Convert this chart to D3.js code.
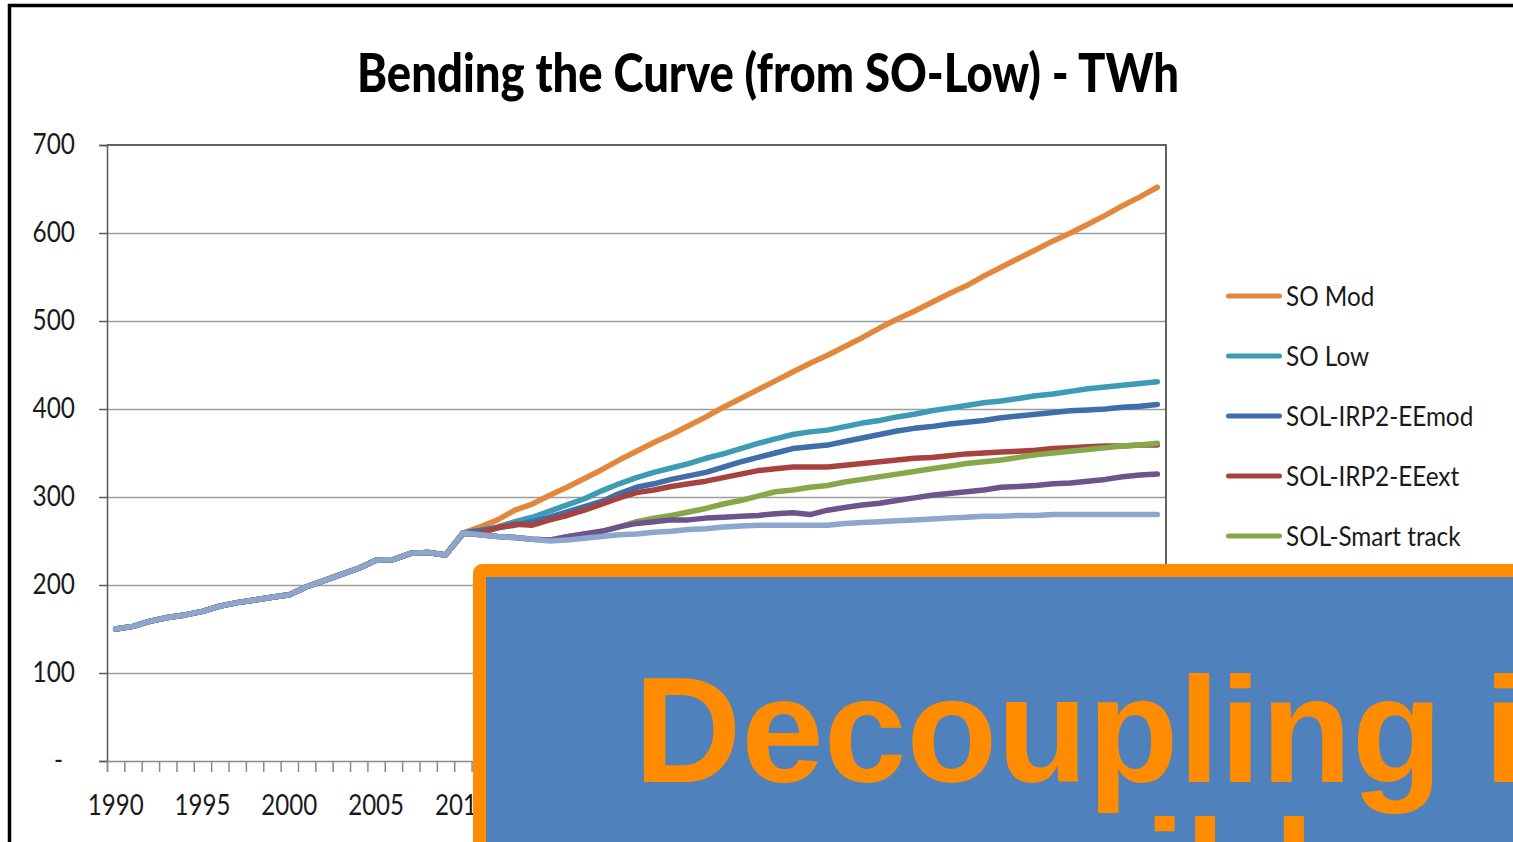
<!DOCTYPE html>
<html><head><meta charset="utf-8">
<script src="https://cdn.jsdelivr.net/npm/d3@7"></script>
<style>html,body{margin:0;padding:0;background:#fff;overflow:hidden}</style>
</head><body>
<svg id="c" width="1513" height="842"></svg>
<script>
// ---------- data ----------
const title = "Bending the Curve (from SO-Low) - TWh";
const years = d3.range(1990, 2051);
const yTicks = [0, 100, 200, 300, 400, 500, 600, 700];
// labels every 5 years; those from 2015 on sit under the overlay box
const xLabelYears = [1990, 1995, 2000, 2005, 2010];
const legendNames = ["SO Mod", "SO Low", "SOL-IRP2-EEmod", "SOL-IRP2-EEext", "SOL-Smart track"];
const seriesColors = ["#E3873A", "#3E9BB5", "#3F6EAA", "#A8423F", "#86A84A", "#6E548D", "#8DA6CE"];

// 1990-2009, shared by all series
const historical = [150,153,159,163,166,170,176,180,183,186,189,198,205,212,219,228,229,236,237,234];
// 2010-2050
const soMod = [259,266,274,285,292,302,311,321,331,342,352,362,371,381,391,402,412,422,432,442,452,461,471,481,492,502,511,521,531,540,551,561,571,581,591,600,610,620,631,641,652];
const soLow = [259,262,266,272,277,284,291,298,307,315,322,328,333,338,344,349,355,361,366,371,374,376,380,384,387,391,394,398,401,404,407,409,412,415,417,420,423,425,427,429,431];
const eeMod = [259,262,265,268,272,277,283,289,295,304,311,315,320,324,328,334,340,345,350,355,357,359,363,367,371,375,378,380,383,385,387,390,392,394,396,398,399,400,402,403,405];
const eeExt = [258,259,265,269,268,274,279,285,292,299,305,308,312,315,318,322,326,330,332,334,334,334,336,338,340,342,344,345,347,349,350,351,352,353,355,356,357,358,358,359,359];
const smartTrack = [259,257,255,254,252,251,255,258,261,266,272,276,279,283,287,292,296,301,306,308,311,313,317,320,323,326,329,332,335,338,340,342,345,348,350,352,354,356,358,359,361];
const series6 = [259,257,255,254,252,251,255,258,261,266,270,272,274,274,276,277,278,279,281,282,280,285,288,291,293,296,299,302,304,306,308,311,312,313,315,316,318,320,323,325,326];
const series7 = [259,257,255,254,252,250,251,253,255,257,258,260,261,263,264,266,267,268,268,268,268,268,270,271,272,273,274,275,276,277,278,278,279,279,280,280,280,280,280,280,280];

const overlayLine1 = "Decoupling is";
const overlayLine2 = "possible";

// ---------- build ----------
const projections = [soMod, soLow, eeMod, eeExt, smartTrack, series6, series7];
const series = projections.map((p, i) => ({
  name: legendNames[i] || null,
  color: seriesColors[i],
  values: historical.concat(p)
}));

const svg = d3.select("#c");
const L = 107, R = 1166, T = 145, B = 761;
const FONT = "Lato, 'Open Sans', sans-serif";

function squeeze(sel, f) {
  sel.each(function () {
    const w = this.getComputedTextLength();
    this.setAttribute("textLength", w * f);
    this.setAttribute("lengthAdjust", "spacingAndGlyphs");
  });
}

const x = d3.scaleBand().domain(years).range([L, R]).padding(0);
const xEdge = d3.scaleLinear().domain([0, years.length]).range([L, R]);
const y = d3.scaleLinear().domain([0, 700]).range([B, T]);

// outer frame
svg.append("rect").attr("x", 9.5).attr("y", 5.5).attr("width", 1700).attr("height", 1000)
  .attr("fill", "none").attr("stroke", "#000").attr("stroke-width", 3.5);

// title
svg.append("text").attr("x", 768).attr("y", 92).attr("text-anchor", "middle")
  .attr("font-family", FONT).attr("font-weight", 900).attr("font-size", 53)
  .attr("fill", "#000").attr("textLength", 822).attr("lengthAdjust", "spacingAndGlyphs")
  .text(title);

// gridlines
const grid = svg.append("g").attr("transform", `translate(${L},0)`)
  .call(d3.axisLeft(y).tickValues(yTicks.filter(v => v > 0 && v < 700)).tickSize(-(R - L)).tickFormat(""));
grid.select(".domain").remove();
grid.selectAll("line").attr("stroke", "#9d9d9d").attr("stroke-width", 1.5);

// plot border top & right
svg.append("path").attr("d", `M${L},${T}H${R}V${B}`).attr("fill", "none")
  .attr("stroke", "#303030").attr("stroke-width", 1.5);

// y axis
const ya = svg.append("g").attr("transform", `translate(${L},0)`)
  .call(d3.axisLeft(y).tickValues(yTicks).tickSize(8).tickPadding(24)
    .tickFormat(d => d === 0 ? "-" : d));
ya.select(".domain").attr("stroke", "#5a5a5a").attr("stroke-width", 1.5);
ya.selectAll("line").attr("stroke", "#5a5a5a").attr("stroke-width", 1.5);
ya.selectAll("text").attr("font-family", FONT).attr("font-size", 28).attr("fill", "#1a1a1a");
ya.selectAll(".tick").filter(d => d === 0).select("text").attr("x", -44);
squeeze(ya.selectAll("text"), 0.87);

// x axis: tick marks at category boundaries
const xt = svg.append("g").attr("transform", `translate(0,${B})`)
  .call(d3.axisBottom(xEdge).tickValues(d3.range(0, years.length + 1)).tickSize(11).tickFormat(""));
xt.select(".domain").attr("stroke", "#8a8a8a").attr("stroke-width", 1.5);
xt.selectAll("line").attr("stroke", "#8a8a8a").attr("stroke-width", 1.5);

// x labels
const xl = svg.append("g").attr("transform", `translate(0,${B})`)
  .call(d3.axisBottom(x).tickValues(xLabelYears).tickSize(0).tickPadding(34));
xl.select(".domain").remove();
xl.selectAll("text").attr("font-family", FONT).attr("font-size", 28).attr("fill", "#1a1a1a");
squeeze(xl.selectAll("text"), 0.86);

// lines
const line = d3.line()
  .x((d, i) => x(years[i]) + x.bandwidth() / 2)
  .y(d => y(d));
svg.append("g").selectAll("path").data(series).join("path")
  .attr("d", d => line(d.values))
  .attr("fill", "none").attr("stroke", d => d.color).attr("stroke-width", 5.5)
  .attr("stroke-linejoin", "round").attr("stroke-linecap", "round");

// legend
const lg = svg.append("g");
const items = lg.selectAll("g").data(series.filter(s => s.name)).join("g")
  .attr("transform", (d, i) => `translate(0,${296 + i * 60})`);
items.append("line").attr("x1", 1228.5).attr("x2", 1279.5).attr("y1", 0).attr("y2", 0)
  .attr("stroke", d => d.color).attr("stroke-width", 5).attr("stroke-linecap", "round");
const lt = items.append("text").attr("x", 1286).attr("y", 10)
  .attr("font-family", FONT).attr("font-size", 27).attr("fill", "#1a1a1a").text(d => d.name);
squeeze(lt, 0.9);

// overlay box
const ov = svg.append("g");
ov.append("rect").attr("x", 473).attr("y", 564).attr("width", 1200).attr("height", 600)
  .attr("rx", 9).attr("fill", "#FF8C00");
ov.append("rect").attr("x", 486).attr("y", 577).attr("width", 1200).attr("height", 600)
  .attr("fill", "#4F81BD");
ov.append("text").attr("transform", "translate(634,782) scale(0.99,1)")
  .attr("font-family", "'Liberation Sans', Arial, sans-serif").attr("font-weight", 700)
  .attr("font-size", 150).attr("fill", "#FF8C00").text(overlayLine1);
ov.append("text").attr("transform", "translate(805,925) scale(0.97,1)")
  .attr("font-family", "'Liberation Sans', Arial, sans-serif").attr("font-weight", 700)
  .attr("font-size", 150).attr("fill", "#FF8C00").text(overlayLine2);
</script>
</body></html>
